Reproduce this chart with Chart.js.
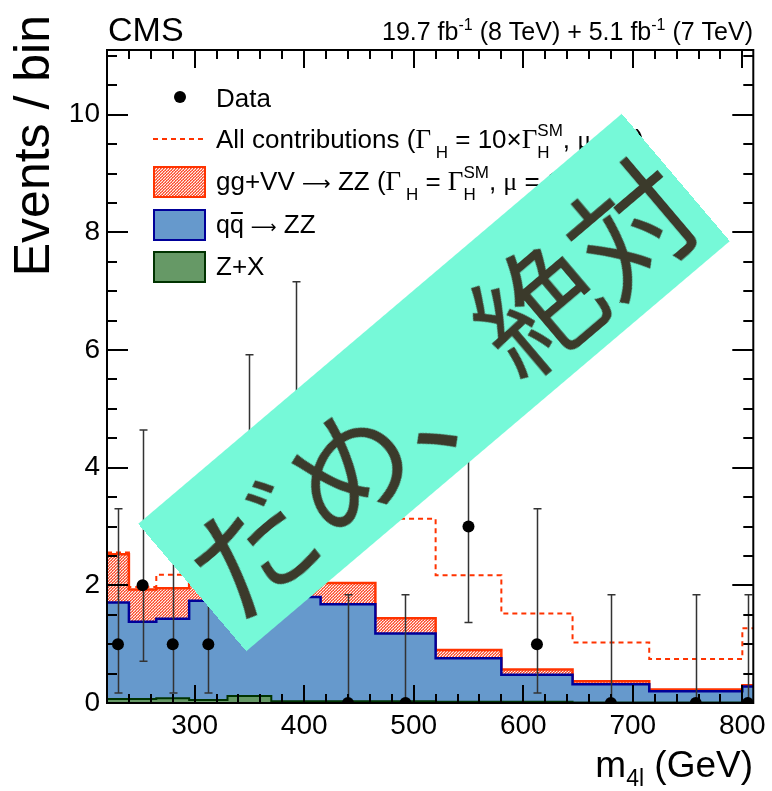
<!DOCTYPE html>
<html>
<head>
<meta charset="utf-8">
<script src="https://cdn.jsdelivr.net/npm/chart.js@4.4.1/dist/chart.umd.min.js"></script>
<style>
  body { margin: 0; background: #fff; }
  #wrap { position: relative; width: 772px; height: 791px; overflow: hidden; }
  #sticker {
    position: absolute; left: 117px; top: 299px; width: 634px; height: 167px;
    background: rgb(118, 249, 216); transform: rotate(-40.3deg);
    color: #3b3a2b; font-family: "Noto Sans CJK JP", sans-serif; font-size: 124px;
    line-height: 167px; text-align: center; white-space: nowrap;
  }
  #sticker span { position: relative; left: 3px; top: 3px; }
</style>
</head>
<body>
<div id="wrap">
  <canvas id="chart" width="772" height="791"></canvas>
  <div id="sticker"><span>だめ、絶対</span></div>
</div>
<script>
// m4l bin edges (GeV), variable width
var binEdges = [220, 240, 265, 295, 330, 370, 415, 465, 520, 580, 645, 715, 800, 810];

// expected events per bin, per component
var zxValues = [0.07, 0.07, 0.08, 0.05, 0.12, 0.03, 0.03, 0.03, 0.02, 0.02, 0.01, 0.01, 0.01];
var qqValues = [1.64, 1.31, 1.35, 1.69, 1.70, 1.77, 1.65, 1.15, 0.74, 0.46, 0.31, 0.19, 0.27];
var ggValues = [0.82, 0.55, 0.52, 0.46, 0.43, 0.42, 0.36, 0.26, 0.14, 0.09, 0.05, 0.03, 0.02];
// all contributions, Gamma_H = 10 x SM
var allContribValues = [2.56, 1.97, 2.18, 2.45, 2.75, 3.0, 3.1, 3.13, 2.17, 1.52, 1.03, 0.75, 1.27];

// observed events and error bar ends
var dataCounts = [1, 2, 1, 1, 3, 4, 0, 0, 3, 1, 0, 0, 0];
var dataLow  = [0.17, 0.71, 0.17, 0.17, 1.37, 2.09, 0, 0, 1.37, 0.17, 0, 0, 0];
var dataHigh = [3.30, 4.64, 3.30, 3.30, 5.92, 7.16, 1.84, 1.84, 5.92, 3.30, 1.84, 1.84, 1.84];

var xTickLabels = [300, 400, 500, 600, 700, 800];
var yTickLabels = [0, 2, 4, 6, 8, 10];

var SANS = '"Liberation Sans", Arial, Helvetica, sans-serif';
var SERIF = '"Liberation Serif", "Times New Roman", serif';
var ARROW = '"DejaVu Sans", sans-serif';

function stepPoints(vals) {
  var pts = vals.map(function (v, i) { return { x: binEdges[i], y: v }; });
  pts.push({ x: binEdges[binEdges.length - 1], y: vals[vals.length - 1] });
  return pts;
}

var greenTop = zxValues.slice();
var blueTop = zxValues.map(function (v, i) { return v + qqValues[i]; });
var redTop = blueTop.map(function (v, i) { return v + ggValues[i]; });

var dataPoints = dataCounts.map(function (n, i) {
  return { x: (binEdges[i] + binEdges[i + 1]) / 2, y: n };
});

function makeDots() {
  var c = document.createElement('canvas');
  c.width = 3; c.height = 3;
  var g = c.getContext('2d');
  g.fillStyle = 'rgb(250,125,100)';
  g.fillRect(0, 0, 3, 3);
  g.fillStyle = 'rgb(255,240,235)';
  g.fillRect(0, 0, 1, 1);
  g.fillRect(2, 1, 1, 1);
  g.fillRect(1, 2, 1, 1);
  g.fillStyle = 'rgb(255,70,40)';
  g.fillRect(1, 0, 1, 1);
  g.fillRect(0, 2, 1, 1);
  return g.createPattern(c, 'repeat');
}
var redDots = makeDots();

var RED = 'rgb(255,51,0)';
var BLUE_FILL = 'rgb(102,153,204)', BLUE_LINE = 'rgb(0,0,153)';
var GREEN_FILL = 'rgb(102,153,102)', GREEN_LINE = 'rgb(0,51,0)';

// text with sub/superscripts
function rich(ctx, x, y, parts, dry) {
  parts.forEach(function (p) {
    if (p.sub !== undefined) {
      ctx.font = p.s + 'px ' + SANS;
      var w1 = ctx.measureText(p.sub).width, w2 = ctx.measureText(p.sup).width;
      if (!dry) { ctx.fillText(p.sup, x, y + p.up); ctx.fillText(p.sub, x, y + p.down); }
      x += Math.max(w1, w2);
    } else {
      ctx.font = p.s + 'px ' + (p.f || SANS);
      if (!dry) ctx.fillText(p.t, x, y + (p.dy || 0));
      x += ctx.measureText(p.t).width;
    }
  });
  return x;
}

var errorBars = {
  id: 'errorBars',
  beforeDatasetDraw: function (chart, args) {
    if (args.index !== 4) return;
    var ctx = chart.ctx, xs = chart.scales.x, ys = chart.scales.y;
    ctx.save();
    ctx.strokeStyle = '#333';
    ctx.lineWidth = 1.5;
    ctx.beginPath();
    dataPoints.forEach(function (p, i) {
      var px = Math.round(xs.getPixelForValue(p.x)) + 0.5;
      var lo = ys.getPixelForValue(dataLow[i]), hi = ys.getPixelForValue(dataHigh[i]);
      ctx.moveTo(px, lo); ctx.lineTo(px, hi);
      ctx.moveTo(px - 4, hi); ctx.lineTo(px + 4, hi);
      ctx.moveTo(px - 4, lo); ctx.lineTo(px + 4, lo);
    });
    ctx.stroke();
    ctx.restore();
  }
};

var frameAndText = {
  id: 'frameAndText',
  afterDraw: function (chart) {
    var ctx = chart.ctx, a = chart.chartArea, xs = chart.scales.x, ys = chart.scales.y;
    ctx.save();
    ctx.strokeStyle = '#000';
    ctx.lineWidth = 2;
    ctx.beginPath();
    for (var m = 240; m <= 800; m += 20) {
      var px = Math.round(xs.getPixelForValue(m));
      var len = (m % 100 === 0) ? 18 : 9;
      ctx.moveTo(px, a.bottom); ctx.lineTo(px, a.bottom - len);
      ctx.moveTo(px, a.top); ctx.lineTo(px, a.top + len);
    }
    for (var k = 1; k <= 22; k++) {
      var py = Math.round(ys.getPixelForValue(k * 0.5));
      var l2 = (k % 4 === 0) ? 21 : 10;
      ctx.moveTo(a.left, py); ctx.lineTo(a.left + l2, py);
      ctx.moveTo(a.right, py); ctx.lineTo(a.right - l2, py);
    }
    ctx.stroke();
    ctx.strokeRect(a.left, a.top, a.right - a.left, a.bottom - a.top);

    ctx.fillStyle = '#000';
    ctx.textBaseline = 'alphabetic';
    ctx.textAlign = 'left';

    // header
    ctx.font = '34px ' + SANS;
    ctx.fillText('CMS', 108, 41);
    var lumi = [
      { t: '19.7 fb', s: 25 }, { t: '-1', s: 16, dy: -10 }, { t: ' (8 TeV) + 5.1 fb', s: 25 },
      { t: '-1', s: 16, dy: -10 }, { t: ' (7 TeV)', s: 25 }
    ];
    var lw = rich(ctx, 0, 0, lumi, true);
    rich(ctx, 753 - lw, 40, lumi, false);

    // axis titles
    var xt = [{ t: 'm', s: 37 }, { t: '4l', s: 23, dy: 9 }, { t: ' (GeV)', s: 37 }];
    var xw = rich(ctx, 0, 0, xt, true);
    rich(ctx, 753 - xw, 777, xt, false);
    ctx.save();
    ctx.translate(49, 15);
    ctx.rotate(-Math.PI / 2);
    ctx.textAlign = 'right';
    ctx.font = '50px ' + SANS;
    ctx.fillText('Events / bin', 0, 0);
    ctx.restore();

    // legend
    var tx = 216;
    ctx.beginPath();
    ctx.arc(180, 97, 6, 0, Math.PI * 2);
    ctx.fill();
    ctx.font = '26px ' + SANS;
    ctx.fillText('Data', tx, 107);

    ctx.save();
    ctx.strokeStyle = RED; ctx.lineWidth = 2; ctx.setLineDash([5, 4]);
    ctx.beginPath(); ctx.moveTo(153, 139); ctx.lineTo(205, 139); ctx.stroke();
    ctx.restore();
    rich(ctx, tx, 148, [
      { t: 'All contributions (', s: 26 }, { t: 'Γ', s: 27, f: SERIF }, { t: ' H', s: 17, dy: 10 },
      { t: ' = 10×', s: 26 }, { t: 'Γ', s: 27, f: SERIF }, { sub: 'H', sup: 'SM', s: 17, up: -12, down: 10 },
      { t: ', ', s: 26 }, { t: 'μ', s: 26, f: SERIF }, { t: ' = 1)', s: 26 }
    ], false);

    function box(y, fill, line) {
      ctx.save();
      ctx.fillStyle = fill; ctx.strokeStyle = line; ctx.lineWidth = 2;
      ctx.fillRect(154, y - 15, 51, 30);
      ctx.strokeRect(154, y - 15, 51, 30);
      ctx.restore();
    }
    box(182, redDots, RED);
    rich(ctx, tx, 190, [
      { t: 'gg+VV ', s: 26 }, { t: '⟶', s: 20, f: ARROW }, { t: ' ZZ (', s: 26 },
      { t: 'Γ', s: 27, f: SERIF }, { t: ' H', s: 17, dy: 10 },
      { t: ' = ', s: 26 }, { t: 'Γ', s: 27, f: SERIF }, { sub: 'H', sup: 'SM', s: 17, up: -12, down: 10 },
      { t: ', ', s: 26 }, { t: 'μ', s: 26, f: SERIF }, { t: ' = 1)', s: 26 }
    ], false);

    box(225, BLUE_FILL, BLUE_LINE);
    ctx.font = '25px ' + SANS;
    var qw = ctx.measureText('q').width;
    ctx.fillText('q', tx, 233);
    ctx.fillText('q', tx + qw, 233);
    ctx.fillRect(tx + qw + 1, 212, qw - 2, 2);
    rich(ctx, tx + 2 * qw, 233, [
      { t: ' ', s: 25 }, { t: '⟶', s: 18, f: ARROW }, { t: ' ZZ', s: 26 }
    ], false);

    box(267, GREEN_FILL, GREEN_LINE);
    ctx.font = '26px ' + SANS;
    ctx.fillText('Z+X', tx, 275);
    ctx.restore();
  }
};

new Chart(document.getElementById('chart'), {
  type: 'line',
  data: {
    datasets: [{
      label: 'gg+VV -> ZZ',
      data: stepPoints(redTop),
      stepped: 'before', fill: 'origin',
      backgroundColor: redDots, borderColor: RED, borderWidth: 2.5,
      pointRadius: 0, order: 5
    }, {
      label: 'qqbar -> ZZ',
      data: stepPoints(blueTop),
      stepped: 'before', fill: 'origin',
      backgroundColor: BLUE_FILL, borderColor: BLUE_LINE, borderWidth: 2.5,
      pointRadius: 0, order: 4
    }, {
      label: 'Z+X',
      data: stepPoints(greenTop),
      stepped: 'before', fill: 'origin',
      backgroundColor: GREEN_FILL, borderColor: GREEN_LINE, borderWidth: 2,
      pointRadius: 0, order: 3
    }, {
      label: 'All contributions',
      data: stepPoints(allContribValues),
      stepped: 'before', fill: false,
      borderColor: RED, borderWidth: 2, borderDash: [5, 4],
      pointRadius: 0, order: 2
    }, {
      type: 'scatter',
      label: 'Data',
      data: dataPoints,
      backgroundColor: '#000', borderWidth: 0,
      pointRadius: 6, order: 1
    }]
  },
  options: {
    responsive: false,
    animation: false,
    devicePixelRatio: 1,
    layout: { padding: { top: 50, right: 18, left: 0, bottom: 0 } },
    plugins: { legend: { display: false }, tooltip: { enabled: false } },
    scales: {
      x: {
        type: 'linear', min: 220, max: 810,
        grid: { display: false, drawTicks: false }, border: { display: false },
        afterFit: function (s) { s.height = 88; },
        afterBuildTicks: function (s) { s.ticks = xTickLabels.map(function (v) { return { value: v }; }); },
        ticks: { font: { family: SANS, size: 28 }, color: '#000', padding: 6, maxRotation: 0, autoSkip: false }
      },
      y: {
        type: 'linear', min: 0, max: 11.1,
        grid: { display: false, drawTicks: false }, border: { display: false },
        afterFit: function (s) { s.width = 107; },
        afterBuildTicks: function (s) { s.ticks = yTickLabels.map(function (v) { return { value: v }; }); },
        ticks: { font: { family: SANS, size: 28 }, color: '#000', padding: 7 }
      }
    }
  },
  plugins: [errorBars, frameAndText]
});
</script>
</body>
</html>
